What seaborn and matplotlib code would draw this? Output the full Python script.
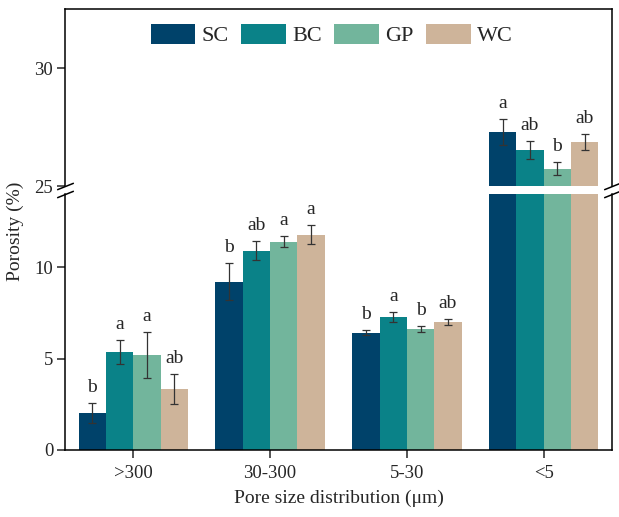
import numpy as np
import pandas as pd
import seaborn as sns
import matplotlib.pyplot as plt

sns.set_style("white")
plt.rcParams["font.family"] = ["Liberation Serif", "DejaVu Serif"]

# datos
clases = [">300", "30-300", "5-30", "<5"]
tratamientos = ["SC", "BC", "GP", "WC"]
colores = ["#00426A", "#0A8288", "#72B59C", "#CEB49A"]

media_sc = [2.04, 9.21, 6.42, 27.27]
media_bc = [5.38, 10.91, 7.26, 26.52]
media_gp = [5.20, 11.40, 6.64, 25.74]
media_wc = [3.34, 11.77, 7.02, 26.86]

err_sc = [0.55, 1.03, 0.12, 0.55]
err_bc = [0.65, 0.51, 0.26, 0.38]
err_gp = [1.24, 0.29, 0.16, 0.27]
err_wc = [0.82, 0.53, 0.16, 0.34]

letra_sc = ["b", "b", "b", "a"]
letra_bc = ["a", "ab", "a", "ab"]
letra_gp = ["a", "a", "b", "b"]
letra_wc = ["ab", "a", "ab", "ab"]

medias = [media_sc, media_bc, media_gp, media_wc]
errores = [err_sc, err_bc, err_gp, err_wc]
letras = [letra_sc, letra_bc, letra_gp, letra_wc]

df = pd.DataFrame({
    "clase": np.tile(clases, 4),
    "tratamiento": np.repeat(tratamientos, 4),
    "porosidad": np.concatenate(medias),
})

W, H = 619, 517
fig = plt.figure(figsize=(W / 100, H / 100), dpi=100)
izq, der = 65 / W, 612 / W
ax_sup = fig.add_axes([izq, (H - 186) / H, der - izq, 177 / H])
ax_inf = fig.add_axes([izq, (H - 450) / H, der - izq, 256 / H])

for ax, lim in [(ax_sup, (25, 32.5)), (ax_inf, (0, 14))]:
    sns.barplot(data=df, x="clase", y="porosidad", hue="tratamiento",
                order=clases, hue_order=tratamientos, palette=colores,
                saturation=1, errorbar=None, width=0.8, linewidth=0,
                legend=(ax is ax_sup), ax=ax)
    ax.set_ylim(*lim)
    ax.set_xlim(-0.5, 3.5)
    ax.set_xlabel("")
    ax.set_ylabel("")
    for s in ax.spines.values():
        s.set_linewidth(1.1)
        s.set_color("black")
    ax.tick_params(axis="y", direction="out", length=5.5, width=1.1,
                   labelsize=13.5, left=True, pad=3)
    # barras de error y letras en el eje donde cae la barra
    contenedores = list(ax.containers)
    for j, cont in enumerate(contenedores):
        for i, barra in enumerate(cont):
            m = medias[j][i]
            if not (lim[0] < m < lim[1]):
                continue
            xc = barra.get_x() + barra.get_width() / 2
            ax.errorbar(xc, m, yerr=errores[j][i], fmt="none", ecolor="#333333",
                        elinewidth=0.9, capsize=3, capthick=0.9)
            ax.annotate(letras[j][i], (xc, m + errores[j][i]), xytext=(0, 8),
                        textcoords="offset points", ha="center", va="baseline",
                        fontsize=14)

ax_sup.set_yticks([25, 30])
ax_sup.spines["bottom"].set_visible(False)
ax_sup.tick_params(axis="x", bottom=False, labelbottom=False)
ax_inf.set_yticks([0, 5, 10])
ax_inf.spines["top"].set_visible(False)
ax_inf.tick_params(axis="x", direction="out", length=5.5, width=1.1,
                   labelsize=13.5, bottom=True, pad=5)
ax_inf.set_xlabel("Pore size distribution (μm)", fontsize=14, labelpad=6)

# marcas de corte
marca = [(-1, -0.4), (1, 0.4)]
for ax, y in [(ax_sup, 0), (ax_inf, 1)]:
    ax.plot([0, 1], [y, y], transform=ax.transAxes, marker=marca, markersize=12,
            linestyle="none", color="black", mec="black", mew=1.1, clip_on=False)

ax_sup.legend(loc="center", bbox_to_anchor=(0.488, 0.853), ncol=4, frameon=False,
              fontsize=16, handlelength=2.0, handleheight=1.0, handletextpad=0.3,
              columnspacing=0.55)

fig.text(15 / W, 1 - 231 / H, "Porosity (%)", rotation=90, ha="center",
         va="center", fontsize=14)

fig.savefig("out.png", dpi=100)
